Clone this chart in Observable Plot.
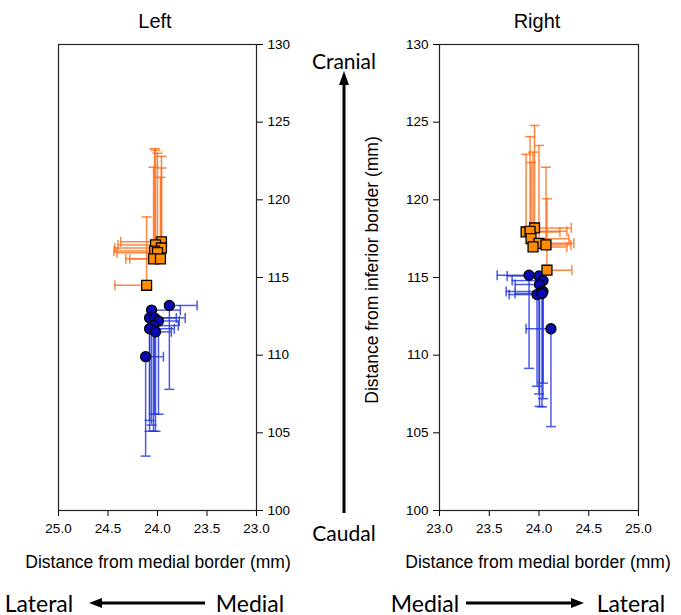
<!DOCTYPE html>
<html><head><meta charset="utf-8">
<script src="https://cdn.jsdelivr.net/npm/d3@7"></script>
<script src="https://cdn.jsdelivr.net/npm/@observablehq/plot@0.6"></script>
<style>
body{margin:0;background:#fff;}
#wrap{position:relative;width:681px;height:615px;overflow:hidden;font-family:"Liberation Sans",Arial,sans-serif;color:#000;}
.t{position:absolute;white-space:nowrap;transform:translate(-50%,-50%);line-height:1;}
.c{font-family:Lato,"Open Sans",sans-serif;font-size:21px;}
.b{font-family:Lato,"Open Sans",sans-serif;font-size:23px;}
.p{position:absolute;top:0;}
</style></head><body><div id="wrap"></div>
<script>
// ---------- data (mm) ----------
const xTicks = [23.0, 23.5, 24.0, 24.5, 25.0];
const yTicks = [100, 105, 110, 115, 120, 125, 130];

// Left side – cranial (orange squares): error bars toward lateral (+x) and cranial (+y)
const leftCranialX    = [23.96, 24.02, 23.96, 24.03, 24.00, 24.04, 23.97, 24.11];
const leftCranialY    = [117.3, 117.1, 116.9, 116.7, 116.6, 116.2, 116.2, 114.5];
const leftCranialXErr = [0.41, 0.38, 0.47, 0.41, 0.41, 0.24, 0.35, 0.32];
const leftCranialYErr = [5.5, 6.1, 5.15, 6.6, 6.4, 5.9, 5.25, 4.4];

// Left side – caudal (blue circles): error bars toward medial (-x) and caudal (-y)
const leftCaudalX    = [23.88, 24.06, 24.08, 24.03, 23.99, 24.04, 24.08, 24.02, 24.12];
const leftCaudalY    = [113.2, 112.9, 112.4, 112.4, 112.2, 111.9, 111.7, 111.5, 109.9];
const leftCaudalXErr = [0.28, 0.29, 0.27, 0.31, 0.21, 0.25, 0.25, 0.16, 0.18];
const leftCaudalYErr = [5.4, 7.4, 7.3, 6.2, 6.0, 6.8, 5.9, 6.4, 6.4];

// Right side – cranial (orange squares)
const rightCranialX    = [23.955, 23.87, 23.91, 23.92, 24.00, 23.94, 24.07, 24.08];
const rightCranialY    = [118.19, 117.93, 117.97, 117.5, 117.2, 116.97, 117.1, 115.47];
const rightCranialXErr = [0.37, 0.34, 0.37, 0.38, 0.35, 0.34, 0.25, 0.25];
const rightCranialYErr = [6.6, 5.0, 6.1, 4.9, 6.3, 6.1, 5.0, 4.6];

// Right side – caudal (blue circles)
const rightCaudalX    = [23.90, 24.00, 24.04, 24.005, 24.04, 23.98, 24.03, 24.12];
const rightCaudalY    = [115.15, 115.1, 114.8, 114.55, 114.1, 113.9, 113.97, 111.7];
const rightCaudalXErr = [0.32, 0.32, 0.31, 0.245, 0.37, 0.28, 0.27, 0.25];
const rightCaudalYErr = [6.0, 7.6, 6.6, 7.85, 6.9, 5.9, 7.3, 6.3];

// ---------- build tables ----------
function rows(xs, ys, xe, ye, sign) {
  return xs.map((x, i) => ({x, y: ys[i], xEnd: x + sign * xe[i], yEnd: ys[i] + sign * ye[i]}));
}
const hCap = {draw(ctx, size) { const r = Math.sqrt(size / Math.PI); ctx.moveTo(-r, 0); ctx.lineTo(r, 0); }};
const vCap = {draw(ctx, size) { const r = Math.sqrt(size / Math.PI); ctx.moveTo(0, -r); ctx.lineTo(0, r); }};

const ORANGE_BAR = "#ff6a14", BLUE_BAR = "#1f32de";
const ORANGE = "#ff8c00", BLUE = "#0a0ab4";

function bars(data, color) {
  const s = {stroke: color, strokeWidth: 1.5, strokeOpacity: 0.8};
  return [
    Plot.ruleX(data, {x: "x", y1: "y", y2: "yEnd", ...s}),
    Plot.ruleY(data, {y: "y", x1: "x", x2: "xEnd", ...s}),
    Plot.dot(data, {x: "x", y: "yEnd", symbol: hCap, r: 5, fill: "none", ...s}),
    Plot.dot(data, {x: "xEnd", y: "y", symbol: vCap, r: 5, fill: "none", ...s})
  ];
}

function panel({xDomain, yAxis, cranial, caudal, width, marginLeft, marginRight}) {
  return Plot.plot({
    width, height: 560, marginTop: 44, marginBottom: 50, marginLeft, marginRight,
    style: {fontFamily: "Liberation Sans, Arial, sans-serif", fontSize: "13.5px", background: "transparent", color: "#000", overflow: "visible"},
    x: {domain: xDomain, ticks: xTicks, tickFormat: d3.format(".1f"), label: null, tickSize: 6, tickPadding: 7},
    y: {domain: [100, 130], ticks: yTicks, label: null, tickSize: 6, tickPadding: 5, axis: yAxis},
    marks: [
      ...bars(caudal, BLUE_BAR),
      ...bars(cranial, ORANGE_BAR),
      Plot.dot(caudal, {x: "x", y: "y", symbol: "circle", r: 5, fill: BLUE, stroke: "#000", strokeWidth: 1.3}),
      Plot.dot(cranial, {x: "x", y: "y", symbol: "square", r: 5.6, fill: ORANGE, stroke: "#000", strokeWidth: 1.3}),
      Plot.frame({stroke: "#222", strokeWidth: 1.2})
    ]
  });
}

const wrap = document.getElementById("wrap");

const left = panel({
  xDomain: [25, 23], yAxis: "right",
  cranial: rows(leftCranialX, leftCranialY, leftCranialXErr, leftCranialYErr, 1),
  caudal: rows(leftCaudalX, leftCaudalY, leftCaudalXErr, leftCaudalYErr, -1),
  width: 340, marginLeft: 58, marginRight: 84
});
left.classList.add("p"); left.style.left = "0px";
wrap.appendChild(left);

const right = panel({
  xDomain: [23, 25], yAxis: "left",
  cranial: rows(rightCranialX, rightCranialY, rightCranialXErr, rightCranialYErr, 1),
  caudal: rows(rightCaudalX, rightCaudalY, rightCaudalXErr, rightCaudalYErr, -1),
  width: 341, marginLeft: 99, marginRight: 43
});
right.classList.add("p"); right.style.left = "340px";
wrap.appendChild(right);

// ---------- text ----------
function text(str, x, y, cls, extra) {
  const d = document.createElement("div");
  d.className = "t " + (cls || "");
  d.textContent = str;
  d.style.left = x + "px"; d.style.top = y + "px";
  if (extra) Object.assign(d.style, extra);
  wrap.appendChild(d);
}
text("Left", 155, 21, "", {fontSize: "20px"});
text("Right", 537, 21, "", {fontSize: "20px"});
text("Distance from medial border (mm)", 158, 563, "", {fontSize: "17.5px"});
text("Distance from medial border (mm)", 538, 563, "", {fontSize: "17.5px"});
text("Distance from inferior border (mm)", 373, 270, "", {fontSize: "17.5px", transform: "translate(-50%,-50%) rotate(-90deg)"});
text("Cranial", 344, 60, "c");
text("Caudal", 344, 532, "c");
text("Lateral", 39, 603, "b");
text("Medial", 250, 603, "b");
text("Medial", 425, 603, "b");
text("Lateral", 631, 603, "b");

// ---------- direction arrows (decoration) ----------
const ns = "http://www.w3.org/2000/svg";
const ov = document.createElementNS(ns, "svg");
ov.setAttribute("width", 681); ov.setAttribute("height", 615);
ov.style.position = "absolute"; ov.style.left = "0"; ov.style.top = "0";
ov.innerHTML = `
  <line x1="344" y1="513" x2="344" y2="84" stroke="#000" stroke-width="3"/>
  <path d="M344,71 L339,85 L349,85 Z" fill="#000"/>
  <line x1="205" y1="603" x2="100" y2="603" stroke="#000" stroke-width="3"/>
  <path d="M89,603 L102,598 L102,608 Z" fill="#000"/>
  <line x1="466" y1="603" x2="572" y2="603" stroke="#000" stroke-width="3"/>
  <path d="M584,603 L571,598 L571,608 Z" fill="#000"/>`;
wrap.appendChild(ov);
</script></body></html>
